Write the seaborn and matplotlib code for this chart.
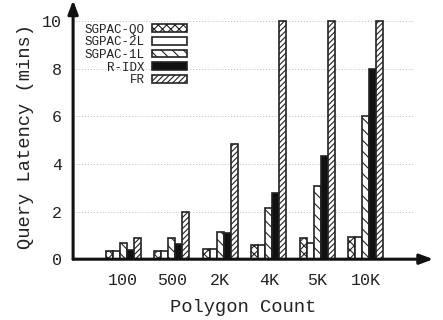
import matplotlib
matplotlib.use("Agg")
import matplotlib.pyplot as plt
import seaborn as sns
import pandas as pd
from matplotlib.patches import Patch

categories = ["100", "500", "2K", "4K", "5K", "10K"]
methods = ["SGPAC-QO", "SGPAC-2L", "SGPAC-1L", "R-IDX", "FR"]
sgpac_qo = [0.36, 0.35, 0.43, 0.60, 0.87, 0.92]
sgpac_2l = [0.35, 0.35, 0.41, 0.59, 0.70, 0.95]
sgpac_1l = [0.66, 0.91, 1.16, 2.15, 3.08, 6.03]
r_idx = [0.37, 0.64, 1.12, 2.78, 4.32, 7.98]
fr = [0.91, 1.98, 4.85, 10.0, 10.0, 10.0]

series = [sgpac_qo, sgpac_2l, sgpac_1l, r_idx, fr]
rows = []
for m, vals in zip(methods, series):
    for c, v in zip(categories, vals):
        rows.append({"Polygon Count": c, "Method": m, "Latency": v})
df = pd.DataFrame(rows)

sns.set_style("white")
plt.rcParams["font.family"] = ["Liberation Mono", "DejaVu Sans Mono"]
plt.rcParams["hatch.linewidth"] = 0.8

fig = plt.figure(figsize=(4.43, 3.2), dpi=100)
ax = fig.add_axes([0.165, 0.19, 0.767, 0.767])

ax.yaxis.grid(True, linestyle=(0, (1, 2)), color="#bbbbbb", linewidth=0.7)
ax.set_axisbelow(True)

edge = "#222222"
faces = ["white", "white", "white", "#111111", "white"]
hatches = ["xxxx", "", "\\\\\\", "", "//////"]

sns.barplot(data=df, x="Polygon Count", y="Latency", hue="Method",
            order=categories, hue_order=methods, width=0.72,
            palette=["white"] * 5, edgecolor=edge, linewidth=1.2,
            legend=False, ax=ax, zorder=3)

for cont, fc, h in zip(ax.containers, faces, hatches):
    for bar in cont:
        bar.set_facecolor(fc)
        bar.set_hatch(h)
        bar.set_edgecolor(edge)

ax.set_xlim(-1.03, 5.97)
ax.set_ylim(0, 10.3)
ax.set_yticks([0, 2, 4, 6, 8, 10])
ax.tick_params(axis="both", length=0, labelsize=12, colors="#222222", pad=10)
ax.tick_params(axis="y", pad=8)
ax.set_xlabel("Polygon Count", fontsize=13.5, color="#222222", labelpad=8)
ax.set_ylabel("Query Latency (mins)", fontsize=13.5, color="#222222", labelpad=6)

for s in ["top", "right", "left", "bottom"]:
    ax.spines[s].set_visible(False)

# axis arrows
ax.annotate("", xy=(0, 1.055), xytext=(0, 0), xycoords="axes fraction",
            arrowprops=dict(arrowstyle="-|>,head_length=0.8,head_width=0.3",
                            color="#111111", lw=2.2, shrinkA=0, shrinkB=0),
            annotation_clip=False)
ax.annotate("", xy=(1.06, 0), xytext=(0, 0), xycoords="axes fraction",
            arrowprops=dict(arrowstyle="-|>,head_length=0.8,head_width=0.3",
                            color="#111111", lw=2.2, shrinkA=0, shrinkB=0),
            annotation_clip=False)

handles = [Patch(facecolor=fc, edgecolor=edge, hatch=h, linewidth=1.2)
           for fc, h in zip(faces, hatches)]
leg = ax.legend(handles, methods, loc="upper left", bbox_to_anchor=(0.02, 0.98),
                frameon=False, markerfirst=False, fontsize=9,
                handlelength=2.8, handleheight=0.6, labelspacing=0.05,
                handletextpad=0.6, borderaxespad=0.0)
for t in leg.get_texts():
    t.set_color("#222222")

fig.savefig("out.png", dpi=100)
